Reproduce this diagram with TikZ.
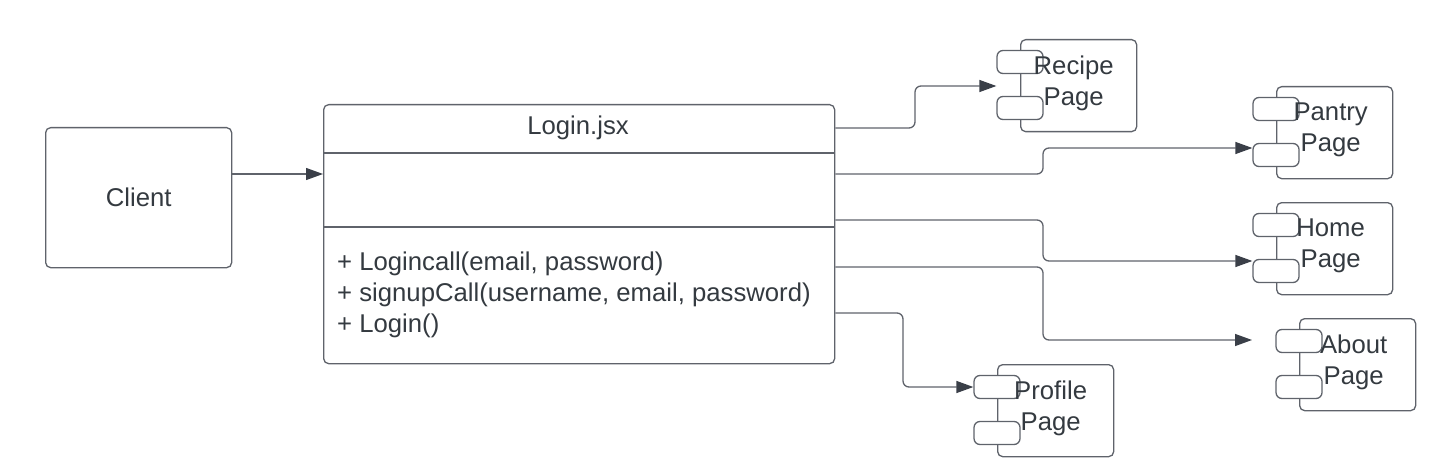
\documentclass[tikz,border=0pt]{standalone}
\usepackage{fontspec}
\setmainfont{Liberation Sans}
\usetikzlibrary{arrows.meta,calc}
\definecolor{ln}{HTML}{5F636B}
\definecolor{tx}{HTML}{343A40}
\definecolor{ah}{HTML}{3A3F48}
\begin{document}
\begin{tikzpicture}[x=1pt,y=-1pt,
  box/.style={draw=ln, line width=1.3pt, rounded corners=5pt, inner sep=0pt, fill=white},
  lbl/.style={text=tx, font=\fontsize{25.7}{31}\selectfont, inner sep=0pt},
  conn/.style={draw=ln, line width=1.3pt, rounded corners=6pt, -{Triangle[length=17pt,width=12pt,fill=ah,color=ah]}},
  divider/.style={draw=ln, line width=1.3pt},
  mainc/.style={box, minimum width=116pt, minimum height=92pt, anchor=north west},
  tab/.style={box, minimum width=46pt, minimum height=23pt, rounded corners=6pt},
]
\useasboundingbox (0,0) rectangle (1442,476);

\newcommand\compo[6]{%
  \node[mainc] (#1) at (#2,#3) {};
  \node[tab] (#1-a) at ($(#1.north west)+(0,23)$) {};
  \node[tab] (#1-b) at ($(#1.north west)+(0,69)$) {};
  \node[lbl, align=center] (#1-t) at ($(#1.center)+(#6,-2.5)$) {#4\\#5};
}

% Client
\node[box, lbl, minimum width=186pt, minimum height=140pt, anchor=north west] (client) at (45,127) {Client};

% Login class
\node[box, minimum width=511pt, minimum height=259pt, anchor=north west] (login) at (323,104) {};
\draw[divider] (login.west |- 0,153) -- (login.east |- 0,153);
\draw[divider] (login.west |- 0,227) -- (login.east |- 0,227);
\node[lbl] (title) at (578,128) {Login.jsx};
\node[lbl, anchor=west, align=left] (methods) at (337,295) {+ Logincall(email, password)\\+ signupCall(username, email, password)\\+ Login()};

% Components
\compo{recipe}{1020}{39}{Recipe}{Page}{-5}
\compo{pantry}{1276}{86}{Pantry}{Page}{-4}
\compo{home}{1276}{202}{Home}{Page}{-4}
\compo{about}{1299}{318}{About}{Page}{-4}
\compo{profile}{997}{364}{Profile}{Page}{-5}

\coordinate (aboutTip) at (1252,340);

% Connectors
\draw[conn] (client.east |- 0,174) -- (login.west |- 0,174);
\draw[conn] (login.east |- 0,128) -- (915,128) -- (915,86) -- (recipe-a.west |- 0,86);
\draw[conn] (login.east |- 0,174) -- (1043,174) -- (1043,148) -- (pantry-b.west |- 0,148);
\draw[conn] (login.east |- 0,220) -- (1043,220) -- (1043,261) -- (home-b.west |- 0,261);
\draw[conn] (login.east |- 0,267) -- (1043,267) -- (1043,340) -- (aboutTip);
\draw[conn] (login.east |- 0,313) -- (903,313) -- (903,387) -- (profile-a.west |- 0,387);
\end{tikzpicture}
\end{document}
